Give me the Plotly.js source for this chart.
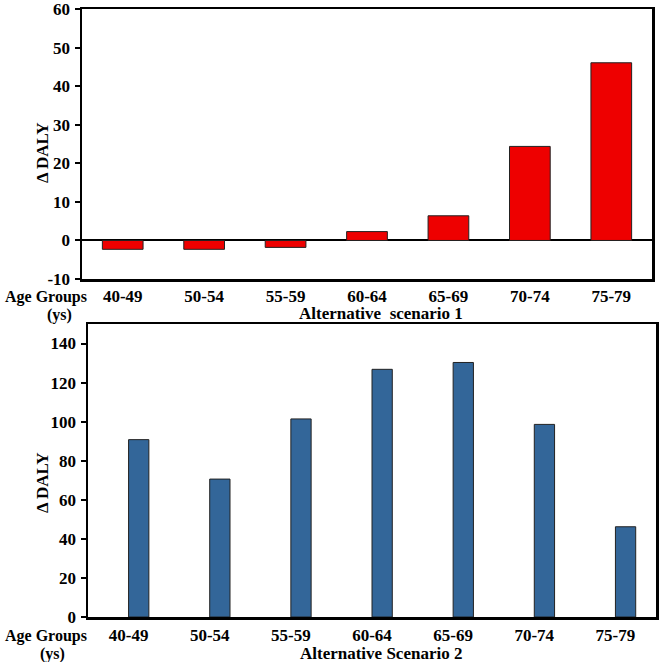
<!DOCTYPE html>
<html><head><meta charset="utf-8">
<script src="https://cdn.plot.ly/plotly-3.0.1.min.js"></script>
<style>html,body{margin:0;padding:0;background:#fff}#chart{width:661px;height:662px}</style>
</head><body><div id="chart"></div>
<script>
const ageGroups = ['40-49','50-54','55-59','60-64','65-69','70-74','75-79'];
const scenario1 = [-2.3, -2.3, -1.8, 2.3, 6.4, 24.4, 46.1];
const scenario2 = [90.8, 70.6, 101.4, 126.8, 130.3, 98.6, 46.2];
const yTicks1 = [-10, 0, 10, 20, 30, 40, 50, 60];
const yTicks2 = [0, 20, 40, 60, 80, 100, 120, 140];

const F = '"Times New Roman", "Liberation Serif", "DejaVu Serif", serif';
const tf = {family: F, size: 17, color: '#000', weight: 'bold'};
const af = {family: F, size: 16, color: '#000', weight: 'bold'};

const traces = [
  {type:'bar', x: ageGroups, y: scenario1, xaxis:'x', yaxis:'y', width: 0.5,
   marker:{color:'#ee0000', line:{color:'#222', width:1}}, hoverinfo:'x+y'},
  {type:'bar', x: ageGroups, y: scenario2, xaxis:'x2', yaxis:'y2', width: 0.25, offset: 0,
   marker:{color:'#336699', line:{color:'#222', width:1}}, hoverinfo:'x+y'}
];

const axBase = {showline:true, mirror:true, linecolor:'#000', linewidth:2.5, showgrid:false};
const layout = {
  width:661, height:662, margin:{l:0,r:0,t:0,b:0}, showlegend:false,
  paper_bgcolor:'#fff', plot_bgcolor:'#fff', bargap:0,
  font:{family:F, color:'#000', weight:'bold'},
  xaxis: Object.assign({}, axBase, {domain:[82/661, 652/661], anchor:'y', type:'category',
    range:[-0.5, 6.5], ticks:'', tickfont:tf, zeroline:false, ticklabelstandoff:0}),
  yaxis: Object.assign({}, axBase, {domain:[1-279/662, 1-9/662], anchor:'x', range:[-10, 60.05],
    tickvals:yTicks1, ticktext:yTicks1.map(String), ticks:'outside', ticklen:5, tickwidth:2, tickcolor:'#000',
    tickfont:tf, zeroline:true, zerolinecolor:'#000', zerolinewidth:2, ticklabelstandoff:1, ticklabeloverflow:'allow'}),
  xaxis2: Object.assign({}, axBase, {domain:[88/661, 656/661], anchor:'y2', type:'category',
    range:[-0.5, 6.5], ticks:'', tickfont:tf, zeroline:false, ticklabelstandoff:1}),
  yaxis2: Object.assign({}, axBase, {domain:[1-617/662, 1-324/662], anchor:'x2', range:[0, 150],
    tickvals:yTicks2, ticktext:yTicks2.map(String), ticks:'outside', ticklen:5, tickwidth:2, tickcolor:'#000',
    tickfont:tf, zeroline:false, ticklabelstandoff:1, ticklabeloverflow:'allow'}),
  annotations: [
    {text:'<b>Age Groups</b>', xref:'paper', yref:'paper', x:46/661, y:1-297/662, showarrow:false, font:af, xanchor:'center', yanchor:'middle'},
    {text:'<b>(ys)</b>', xref:'paper', yref:'paper', x:59/661, y:1-315/662, showarrow:false, font:af, xanchor:'center', yanchor:'middle'},
    {text:'<b>Alternative  scenario 1</b>', xref:'paper', yref:'paper', x:381/661, y:1-313/662, showarrow:false, font:tf, xanchor:'center', yanchor:'middle'},
    {text:'<b>Δ DALY</b>', xref:'paper', yref:'paper', x:42/661, y:1-153/662, showarrow:false, font:tf, textangle:-90, xanchor:'center', yanchor:'middle'},
    {text:'<b>Age Groups</b>', xref:'paper', yref:'paper', x:46/661, y:1-636/662, showarrow:false, font:af, xanchor:'center', yanchor:'middle'},
    {text:'<b>(ys)</b>', xref:'paper', yref:'paper', x:52/661, y:1-654/662, showarrow:false, font:af, xanchor:'center', yanchor:'middle'},
    {text:'<b>Alternative Scenario 2</b>', xref:'paper', yref:'paper', x:381/661, y:1-653/662, showarrow:false, font:tf, xanchor:'center', yanchor:'middle'},
    {text:'<b>Δ DALY</b>', xref:'paper', yref:'paper', x:42/661, y:1-483/662, showarrow:false, font:tf, textangle:-90, xanchor:'center', yanchor:'middle'}
  ]
};
Plotly.newPlot('chart', traces, layout, {displayModeBar:false, staticPlot:true});
</script></body></html>
